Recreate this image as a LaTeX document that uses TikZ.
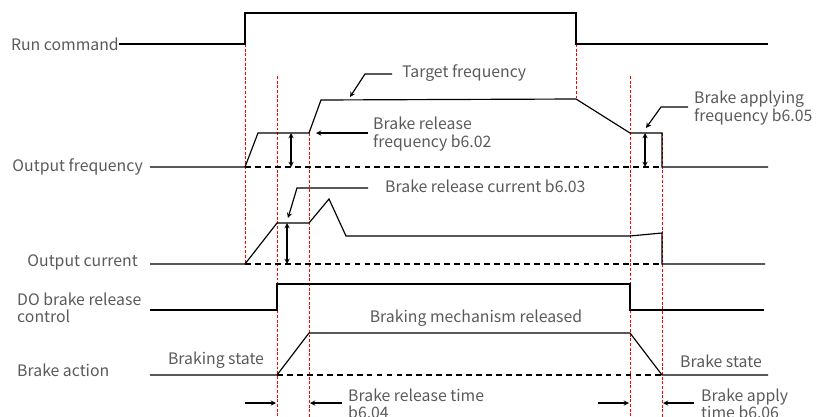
\documentclass[tikz,border=0pt]{standalone}
\usepackage{fontspec}
\setmainfont{Noto Sans CJK SC}
\usetikzlibrary{arrows, calc}
\definecolor{labelgray}{HTML}{5A5A5A}

\begin{document}
\begin{tikzpicture}[x=0.03cm, y=-0.03cm,
		lbl/.style={text=labelgray, font=\fontsize{13.5}{15}\selectfont, inner sep=0pt, align=left},
		sig/.style={line width=1pt},
		base/.style={line width=1pt, dash pattern=on 5pt off 3.5pt},
		guide/.style={red, line width=0.8pt, dash pattern=on 2.5pt off 1.5pt},
		ptr/.style={-stealth, line width=1pt}]
		\useasboundingbox (0,0) rectangle (828,417);
		% signal names
		\node[lbl, anchor=east] (RC) at (119,44) {Run command};
		\node[lbl, anchor=east] (OF) at (143,167) {Output frequency};
		\node[lbl, anchor=east] (OC) at (138,262) {Output current};
		\node[lbl, anchor=west] (DO) at (17,308) {DO brake release\\control};
		\node[lbl, anchor=west] (BA) at (17,370) {Brake action};
		% guides
		\draw[guide] (245,44) -- (245,265);
		\draw[guide] (277,76) -- (277,417);
		\draw[guide] (309,133) -- (309,417);
		\draw[guide] (576,44) -- (576,100);
		\draw[guide] (630,76) -- (630,417);
		\draw[guide] (662,133) -- (662,417);
		% waveforms
		\draw[sig] (RC.east) -- (245,44) -- (245,13) -- (576,13) -- (576,44) -- (768,44);
		\draw[sig] (150,167) -- (245,167) -- (258,133) -- (309,133) -- (321,100) -- (576,99) -- (630,133) -- (662,133) -- (662,167) -- (768,167);
		\draw[base] (245,167) -- (662,167);
		\draw[sig] (150,264) -- (245,264) -- (277,223) -- (309,223) -- (329,199) -- (346,236) -- (630,236) -- (662,233) -- (662,264) -- (765,264);
		\draw[base] (245,264) -- (662,264);
		\draw[sig] (150,310) -- (277,310) -- (277,284) -- (630,284) -- (630,310) -- (764,310);
		\draw[sig] (150,375) -- (277,375) -- (309,333) -- (630,333) -- (662,375) -- (768,375);
		\draw[base] (277,375) -- (662,375);
		\draw[stealth-stealth, line width=1pt] (291,133) -- (291,167);
		\draw[stealth-stealth, line width=1pt] (645,133) -- (645,167);
		\draw[stealth-stealth, line width=1pt] (287,223) -- (287,264);
		% annotations
		\node[lbl, anchor=west] (TF) at (402,73) {Target frequency};
		\node[lbl, anchor=west] (BRF) at (373,134) {Brake release\\frequency b6.02};
		\node[lbl, anchor=west] (BRC) at (385,186) {Brake release current b6.03};
		\node[lbl, anchor=west] (BAF) at (694,108) {Brake applying\\frequency b6.05};
		\draw[ptr] (392,74) -- (365,74) -- (350,97);
		\draw[ptr] (368,133) -- (316,133);
		\draw[ptr] (368,188) -- (297,188) -- (288,218);
		\draw[ptr] (688,107) -- (661,107) -- (646,128);
		\node[lbl] (BS) at (216,360) {Braking state};
		\node[lbl] (BMR) at (476,318) {Braking mechanism released};
		\node[lbl] (BST) at (721,361) {Brake state};
		% times
		\node[lbl, anchor=west] (BRT) at (348,404) {Brake release time\\b6.04};
		\node[lbl, anchor=west] (BAT) at (701,404) {Brake apply\\time b6.06};
		\draw[ptr] (245,403) -- (276,403);
		\draw[ptr] (342,403) -- (310,403);
		\draw[ptr] (598,403) -- (629,403);
		\draw[ptr] (694,403) -- (663,403);
\end{tikzpicture}
\end{document}
